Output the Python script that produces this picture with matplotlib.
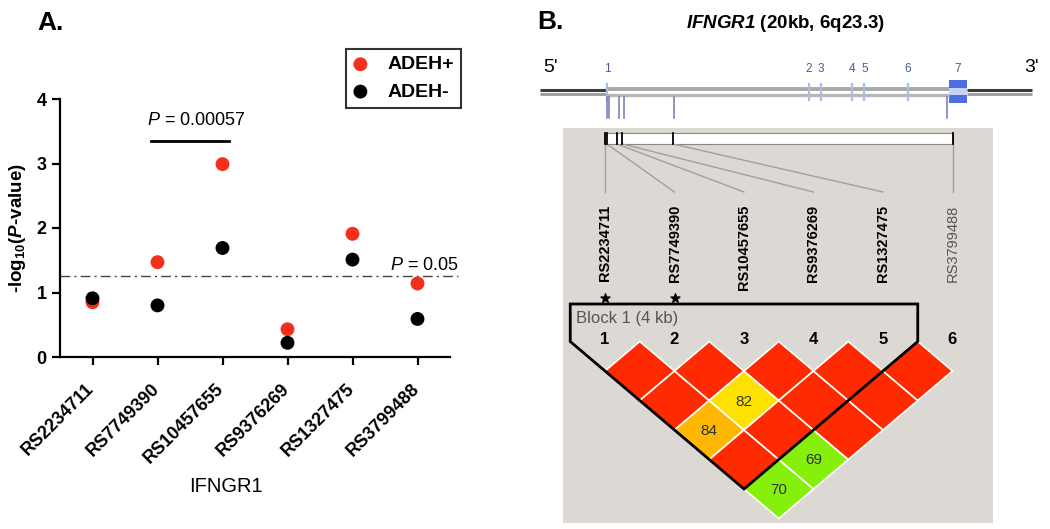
import matplotlib
matplotlib.use('Agg')
import matplotlib.pyplot as plt
from matplotlib import font_manager
from matplotlib.patches import Polygon, Rectangle
from matplotlib.transforms import ScaledTranslation

plt.rcParams['font.family'] = ['Liberation Sans', 'DejaVu Sans']
plt.rcParams['mathtext.fontset'] = 'custom'
plt.rcParams['mathtext.rm'] = 'Liberation Sans'
plt.rcParams['mathtext.it'] = 'Liberation Sans:italic'
plt.rcParams['mathtext.bf'] = 'Liberation Sans:bold'
plt.rcParams['mathtext.bfit'] = 'Liberation Sans:italic:bold'

# ---- panel A data ----
snps = ['RS2234711', 'RS7749390', 'RS10457655', 'RS9376269', 'RS1327475', 'RS3799488']
adeh_pos = [0.85, 1.47, 2.99, 0.43, 1.91, 1.14]
adeh_neg = [0.91, 0.80, 1.69, 0.22, 1.51, 0.59]
threshold = 1.25
bracket_snps = (1, 2)
bracket_y = 3.35

# ---- panel B data ----
exon_labels = ['1', '2', '3', '4', '5', '6', '7']
exon_kb = [0.0, 11.2, 11.9, 13.6, 14.3, 16.7, 19.0]
exon7_end_kb = 20.0
flank_kb = (-3.7, 23.6)
snp_kb = [0.0, 0.1, 0.65, 0.95, 3.7, 18.9]
starred = [1, 2]
block = (1, 5)
# D' (%) for marker pairs i<j, rows = i
ld_dprime = [
    [100, 100, 84, 100, 70],
    [100, 82, 100, 69],
    [100, 100, 100],
    [100, 100],
    [100],
]
ld_key = [
    ['R', 'R', 'O', 'R', 'G'],
    ['R', 'Y', 'R', 'G'],
    ['R', 'R', 'R'],
    ['R', 'R'],
    ['R'],
]
ld_colours = {'R': '#ff2a00', 'Y': '#ffe100', 'O': '#ffb700', 'G': '#86ef0c'}

try:
    font_manager.findfont('Liberation Sans Narrow', fallback_to_default=False)
    narrow, narrow_size = 'Liberation Sans Narrow', 12.5
except Exception:
    narrow, narrow_size = 'Liberation Sans', 10.5

W, H = 1050, 529
fig = plt.figure(figsize=(W / 100, H / 100), dpi=100)

# ================= panel A =================
ax = fig.add_axes([60 / W, (H - 357) / H, 390 / W, 258 / H])
x = list(range(len(snps)))
ax.scatter(x, adeh_pos, s=100, color='#f4301c', edgecolors='none', label='ADEH+', zorder=3)
ax.scatter(x, adeh_neg, s=100, color='black', edgecolors='none', label='ADEH-', zorder=4)
ax.set_xlim(-0.5, 5.5)
ax.set_ylim(0, 4)
for s in ['top', 'right']:
    ax.spines[s].set_visible(False)
for s in ['left', 'bottom']:
    ax.spines[s].set_linewidth(1.6)
ax.tick_params(direction='out', length=6, width=1.6, labelsize=13)
ax.set_yticks(range(5))
ax.set_yticklabels([str(v) for v in range(5)], fontweight='bold')
ax.set_xticks(x)
ax.set_xticklabels(snps, rotation=45, ha='right', rotation_mode='anchor', fontweight='bold')
shift = ScaledTranslation(-7 / 100, -10 / 100, fig.dpi_scale_trans)
for lab in ax.get_xticklabels():
    lab.set_transform(lab.get_transform() + shift)

ax.plot([-0.5, 5.62], [threshold, threshold], color='#444444', lw=1.0,
        dashes=(7, 3, 1.5, 3), clip_on=False, zorder=2)
ax.text(5.64, threshold + 0.04, r'$\mathit{P}$ = 0.05', ha='right', va='bottom', fontsize=13)

ax.plot([bracket_snps[0] - 0.1, bracket_snps[1] + 0.1], [bracket_y, bracket_y],
        color='black', lw=2.0, clip_on=False)
ax.text(sum(bracket_snps) / 2 + 0.1, bracket_y + 0.31, r'$\mathit{P}$ = 0.00057',
        ha='center', va='center', fontsize=13)

ax.set_ylabel(r'-log$_{\mathbf{10}}$($\mathbfit{P}$-value)', fontsize=13.5, fontweight='bold')
ax.yaxis.set_label_coords(-0.083, 0.5)
ax.set_xlabel('IFNGR1', fontsize=14.5)
ax.xaxis.set_label_coords(0.426, -0.465)

leg = ax.legend(loc='upper right', bbox_to_anchor=(1.028, 1.194), borderaxespad=0,
                frameon=True, fancybox=False, edgecolor='black',
                prop={'weight': 'bold', 'size': 14}, handlelength=0.8,
                handletextpad=1.0, borderpad=0.35, labelspacing=0.5)
leg.get_frame().set_linewidth(1.5)

fig.text(37 / W, 1 - 23 / H, 'A.', fontsize=19, fontweight='bold', va='center')

# ================= panel B =================
bx = fig.add_axes([525 / W, 0, 525 / W, 1])
bx.set_xlim(525, 1050)
bx.set_ylim(H, 0)
bx.axis('off')

fig.text(537 / W, 1 - 22 / H, 'B.', fontsize=19, fontweight='bold', va='center')
bx.text(785, 24, r'$\mathbfit{IFNGR1}$ (20kb, 6q23.3)', ha='center', va='center',
        fontsize=13.5, fontweight='bold')


def gene_x(kb):
    return 607 + 18 * kb


def marker_x(i):
    return 605 + (i - 1) * 69.5


def row_y(r):
    return 371 + (r - 1) * 29.5


def box_x(kb):
    return marker_x(1) + (kb - snp_kb[0]) / (snp_kb[-1] - snp_kb[0]) * (marker_x(len(snp_kb)) - marker_x(1))


# gene line
line_y = 92
for a, b in [(flank_kb[0], exon_kb[0]), (exon7_end_kb, flank_kb[1])]:
    bx.plot([gene_x(a), gene_x(b)], [line_y - 2.5, line_y - 2.5], color='#3c3c3c', lw=2.2,
            solid_capstyle='butt')
    bx.plot([gene_x(a), gene_x(b)], [line_y + 2.2, line_y + 2.2], color='#9a9a9a', lw=2.0,
            solid_capstyle='butt')
bx.plot([gene_x(exon_kb[0]), gene_x(exon_kb[-1])], [line_y - 3, line_y - 3],
        color='#a8a8a8', lw=2.8, solid_capstyle='butt')
bx.plot([gene_x(exon_kb[0]), gene_x(exon_kb[-1])], [line_y + 2.6, line_y + 2.6],
        color='#b8b8b8', lw=2.4, solid_capstyle='butt')
for lab, kb in zip(exon_labels[:-1], exon_kb[:-1]):
    bx.plot([gene_x(kb), gene_x(kb)], [84, 100], color='#aabbe6', lw=1.6)
    bx.text(gene_x(kb), 69, lab, ha='center', va='center', fontsize=8.5, color='#4a5a96')
e7 = gene_x(exon_kb[-1])
bx.add_patch(Rectangle((e7, 80), gene_x(exon7_end_kb) - e7, 23, fc='#4d6ee0', ec='none'))
bx.add_patch(Rectangle((e7, 88), gene_x(exon7_end_kb) - e7, 7, fc='#c5d2f8', ec='none'))
bx.text((e7 + gene_x(exon7_end_kb)) / 2, 69, exon_labels[-1], ha='center', va='center',
        fontsize=8.5, color='#4a5a96')
for kb in snp_kb:
    bx.plot([gene_x(kb), gene_x(kb)], [97, 118], color='#6f78b0', lw=1.1)
bx.text(551, 67, "5'", ha='center', va='center', fontsize=14)
bx.text(1032, 67, "3'", ha='center', va='center', fontsize=14)

# haploview background
bx.add_patch(Rectangle((563, 128), 993 - 563, 523 - 128, fc='#dcd8d3', ec='none', zorder=0))
bx.add_patch(Rectangle((box_x(snp_kb[0]), 133), box_x(snp_kb[-1]) - box_x(snp_kb[0]), 11,
                       fc='white', ec='#888888', lw=0.8, zorder=1))
n = len(snp_kb)
for i, kb in enumerate(snp_kb, start=1):
    bx.plot([box_x(kb), box_x(kb)], [133, 144], color='black', lw=1.3, zorder=2)
    bx.plot([box_x(kb), marker_x(i)], [144, 192], color='#a0a0a0', lw=1.0, zorder=1)
    last = i == n
    bx.text(marker_x(i), 205, snps[i - 1], rotation=90, ha='center', va='top',
            fontsize=narrow_size, family=[narrow, 'DejaVu Sans'],
            fontweight='normal' if last else 'bold', color='#555555' if last else 'black')
    bx.text(marker_x(i), 339, str(i), ha='center', va='center', fontsize=12, fontweight='bold')
bx.scatter([marker_x(i) for i in starred], [298] * len(starred), marker='*', s=45,
           color='black', zorder=3)

# LD diamonds
hw, hh = (marker_x(2) - marker_x(1)) / 2, 29.5
for i, row in enumerate(ld_dprime, start=1):
    for k, val in enumerate(row):
        j = i + 1 + k
        cx = (marker_x(i) + marker_x(j)) / 2
        cy = row_y(j - i)
        bx.add_patch(Polygon([(cx - hw, cy), (cx, cy - hh), (cx + hw, cy), (cx, cy + hh)],
                             closed=True, fc=ld_colours[ld_key[i - 1][k]], ec='white',
                             lw=1.2, zorder=2))
        if val < 100:
            bx.text(cx, cy + 1, str(val), ha='center', va='center', fontsize=11,
                    color='#333333', zorder=3)

b0, b1 = block
top = row_y(1) - hh
bottom = row_y(b1 - b0) + hh
bx.add_patch(Polygon([(marker_x(b0) - hw, 304), (marker_x(b1) + hw, 304),
                      (marker_x(b1) + hw, top), ((marker_x(b0) + marker_x(b1)) / 2, bottom),
                      (marker_x(b0) - hw, top)], closed=True, fill=False, ec='black',
                     lw=2.0, zorder=4, joinstyle='miter'))
bx.text(marker_x(b0) - hw + 6, 318, 'Block 1 (4 kb)', ha='left', va='center', fontsize=12,
        color='#555555')

fig.savefig('out.png', dpi=100)
